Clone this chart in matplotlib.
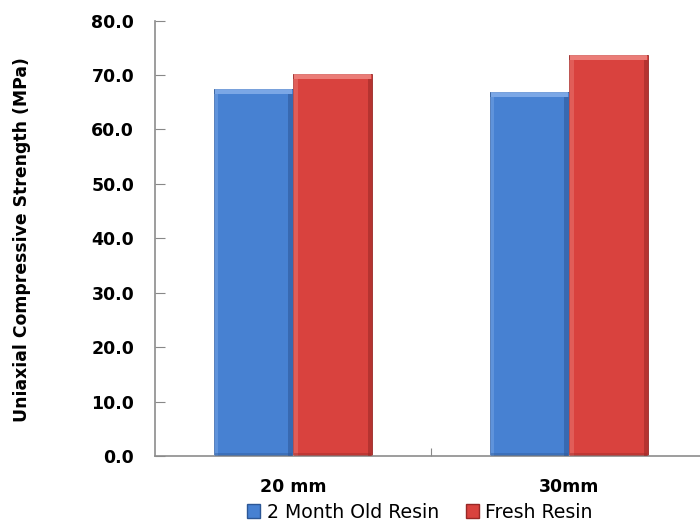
import matplotlib
matplotlib.use("Agg")
import matplotlib.pyplot as plt
import numpy as np
from matplotlib.patches import Patch

categories = ["20 mm", "30mm"]
series_names = ["2 Month Old Resin", "Fresh Resin"]
old_resin = [67.4, 66.9]
fresh_resin = [70.2, 73.7]
y_ticks = [0, 10, 20, 30, 40, 50, 60, 70, 80]

colors = ["#4781d2", "#d9423e"]
dark = ["#2c5796", "#982826"]
light = ["#8db5ee", "#f2908b"]

plt.rcParams["font.family"] = ["DejaVu Sans"]

fig = plt.figure(figsize=(7, 5.2), dpi=100)
ax = fig.add_axes([155 / 700, 64 / 520, 552 / 700, 435.4 / 520])

x = np.arange(len(categories))
w = 0.288
for i, vals in enumerate([old_resin, fresh_resin]):
    xs = x + (i - 0.5) * w
    vals = np.array(vals)
    ax.bar(xs, vals, width=w, color=colors[i], edgecolor=dark[i], linewidth=0.6, zorder=2)
    # bevel: lighter cap on top, darker strip on the right, soft highlight on the left
    ax.bar(xs, [0.9] * len(vals), bottom=vals - 0.9, width=w * 0.97,
           color=light[i], linewidth=0, zorder=3, alpha=0.75)
    ax.bar(xs + w * 0.47, vals - 0.9, width=w * 0.06, color=dark[i], linewidth=0,
           zorder=3, alpha=0.55)
    ax.bar(xs - w * 0.47, vals - 0.9, width=w * 0.06, color=light[i], linewidth=0,
           zorder=3, alpha=0.35)
    ax.bar(xs, [0.5] * len(vals), width=w * 0.97, color=dark[i], linewidth=0,
           zorder=3, alpha=0.4)

ax.set_ylim(0, 80)
ax.set_xlim(-0.5, 1.5)
ax.set_yticks(y_ticks)
ax.set_yticklabels([f"{v:.1f}" for v in y_ticks], fontsize=12.5, fontweight="bold")
ax.set_xticks([0.5])
ax.set_xticklabels([""])
ax.tick_params(axis="y", direction="in", length=7, color="#888888", pad=15)
ax.tick_params(axis="x", direction="in", length=6, color="#888888")
for s in ["top", "right"]:
    ax.spines[s].set_visible(False)
for s in ["left", "bottom"]:
    ax.spines[s].set_color("#8c8c8c")
    ax.spines[s].set_linewidth(1.2)

# category names below the axis
for xi, lab in zip(x, categories):
    ax.annotate(lab, xy=(xi, 0), xycoords=("data", "axes fraction"),
                xytext=(0, -31), textcoords="offset pixels",
                ha="center", va="center", fontsize=12.5, fontweight="bold",
                annotation_clip=False)

fig.text(22 / 700, 1 - 240 / 520, "Uniaxial Compressive Strength (MPa)",
         rotation=90, ha="center", va="center", fontsize=12.4, fontweight="bold")

handles = [Patch(facecolor=colors[i], edgecolor=dark[i], label=series_names[i])
           for i in range(2)]
fig.legend(handles=handles, loc="center left", bbox_to_anchor=(247 / 700, 1 - 512 / 520),
           ncol=2, frameon=False, fontsize=13.6, handlelength=0.7, handleheight=0.7,
           handletextpad=0.35, columnspacing=1.4, borderaxespad=0, borderpad=0)

fig.savefig("out.png", dpi=100)
